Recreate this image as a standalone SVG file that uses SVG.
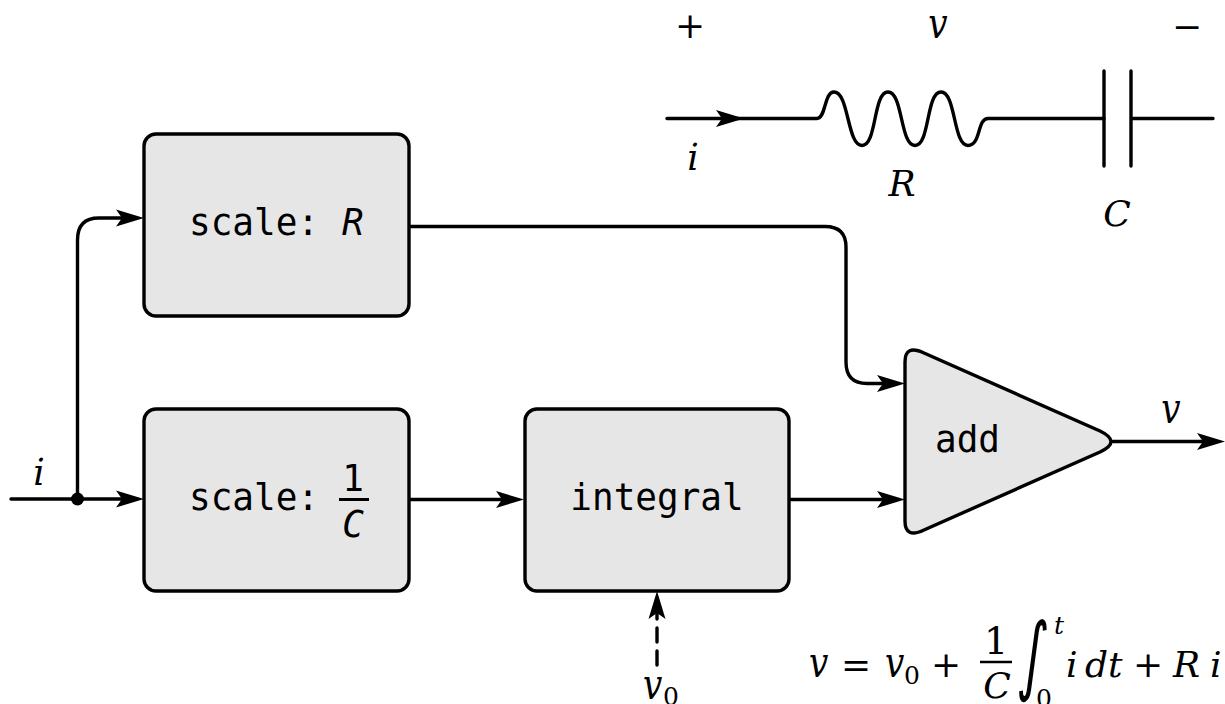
<svg xmlns="http://www.w3.org/2000/svg" width="1225" height="704" viewBox="0 0 1225 704">
<style>
.box{fill:#e6e6e6;stroke:#000;stroke-width:3.4}
.w{fill:none;stroke:#000;stroke-width:3.4;stroke-linecap:round}
.m{font-family:"DejaVu Sans Mono",monospace;font-size:36px;fill:#000}
.mi{font-family:"DejaVu Sans Mono",monospace;font-size:36px;font-style:oblique;fill:#000}
.s{font-family:"DejaVu Serif",serif;font-size:36px;fill:#000}
.si{font-family:"DejaVu Serif",serif;font-size:36px;font-style:italic;fill:#000}
.sub{font-family:"DejaVu Serif",serif;font-size:25px;fill:#000}
</style>
<defs>
<path id="a" d="M0 0L-28 -8.500L-22 0L-28 8.500Z" fill="#000"/>
</defs>
<g id="connectors">
<path class="w" d="M11 499H125"/>
<use href="#a" x="144" y="499"/>
<circle cx="77.500" cy="499" r="6.500" fill="#000"/>
<path class="w" d="M77.500 499V240Q77.500 218 99 218H125"/>
<use href="#a" x="144" y="218"/>
<path class="w" d="M409 226.500H825Q846 226.500 846 247V362Q846 383.500 867 383.500H886"/>
<use href="#a" x="905" y="383.500"/>
<path class="w" d="M409 499.500H505"/>
<use href="#a" x="524" y="499.500"/>
<path class="w" d="M789 499.500H886"/>
<use href="#a" x="905" y="499.500"/>
<path class="w" d="M1111 441.500H1206"/>
<use href="#a" x="1225" y="441.500"/>
<path class="w" d="M657 665V612" stroke-dasharray="14 9"/>
<use href="#a" transform="translate(657 591) rotate(-90)"/>
</g>
<g id="circuit">
<path class="w" d="M667 118.500H725"/>
<use href="#a" x="744" y="118.500"/>
<path class="w" d="M725 118.500H817C826 118.500 824 92 834 92C849 92 847 145.500 862 145.500C877 145.500 873 92 888 92C903 92 900 145.500 915 145.500C930 145.500 926 92 941 92C956 92 953 145.500 968 145.500C981 145.500 977 118.500 988 118.500H1104"/>
<path class="w" d="M1104 71V166M1131 71V166M1131 118.500H1213"/>
<text class="s" x="690" y="38" text-anchor="middle">+</text>
<text class="si" transform="translate(938 38) scale(.95 1.18)" text-anchor="middle">v</text>
<text class="s" x="1187" y="39" text-anchor="middle">−</text>
<text class="si" transform="translate(693 170) scale(1 1.06)" text-anchor="middle">i</text>
<text class="si" x="902" y="196" text-anchor="middle">R</text>
<text class="si" x="1117" y="226" text-anchor="middle">C</text>
</g>
<g id="scale-r">
<rect class="box" x="144" y="134" width="265" height="182" rx="12"/>
<text class="m" transform="translate(189 235) scale(1 1.06)">scale:</text>
<text class="mi" transform="translate(342 235) scale(1 1.06)">R</text>
</g>
<g id="scale-c">
<rect class="box" x="144" y="409" width="265" height="182" rx="12"/>
<text class="m" transform="translate(189 510) scale(1 1.06)">scale:</text>
<text class="m" transform="translate(353 491) scale(1 1.06)" text-anchor="middle">1</text>
<path d="M339 499.500H369" stroke="#000" stroke-width="3"/>
<text class="mi" transform="translate(353 537) scale(1 1.06)" text-anchor="middle">C</text>
</g>
<g id="integral">
<rect class="box" x="525" y="409" width="264" height="182" rx="12"/>
<text class="m" transform="translate(657 510) scale(1 1.06)" text-anchor="middle">integral</text>
</g>
<g id="add">
<path class="box" d="M905 362Q905 344 924 353L1100 431Q1122 441.500 1100 452L924 530Q905 539 905 521Z"/>
<text class="m" transform="translate(935 452) scale(1 1.06)">add</text>
</g>
<g id="labels">
<text class="si" transform="translate(39 485) scale(1 1.06)" text-anchor="middle">i</text>
<text class="si" transform="translate(1171 423) scale(.95 1.18)" text-anchor="middle">v</text>
<text class="si" transform="translate(643 699) scale(.95 1.18)">v</text>
<text class="sub" x="663" y="705">0</text>
</g>
<g id="equation">
<text class="si" transform="translate(809 677) scale(.95 1.18)">v</text>
<text class="s" x="841" y="677">=</text>
<text class="si" transform="translate(885 677) scale(.95 1.18)">v</text>
<text class="sub" x="904" y="684">0</text>
<text class="s" x="931" y="677">+</text>
<text class="s" x="996" y="654" text-anchor="middle" style="font-size:38px">1</text>
<path d="M980 662H1012" stroke="#000" stroke-width="2.500"/>
<text class="si" x="997" y="698" text-anchor="middle">C</text>
<text class="s" transform="translate(1017 684) skewX(-6) scale(.6 1)" style="font-size:86px;font-family:'DejaVu Sans',sans-serif">∫</text>
<text class="si" x="1054" y="634" style="font-size:25px">t</text>
<text class="sub" x="1036" y="707">0</text>
<text class="si" x="1066" y="677">i</text>
<text class="si" x="1085" y="677">dt</text>
<text class="s" x="1133" y="677">+</text>
<text class="si" x="1173" y="677">R</text>
<text class="si" x="1210" y="677">i</text>
</g>
</svg>
